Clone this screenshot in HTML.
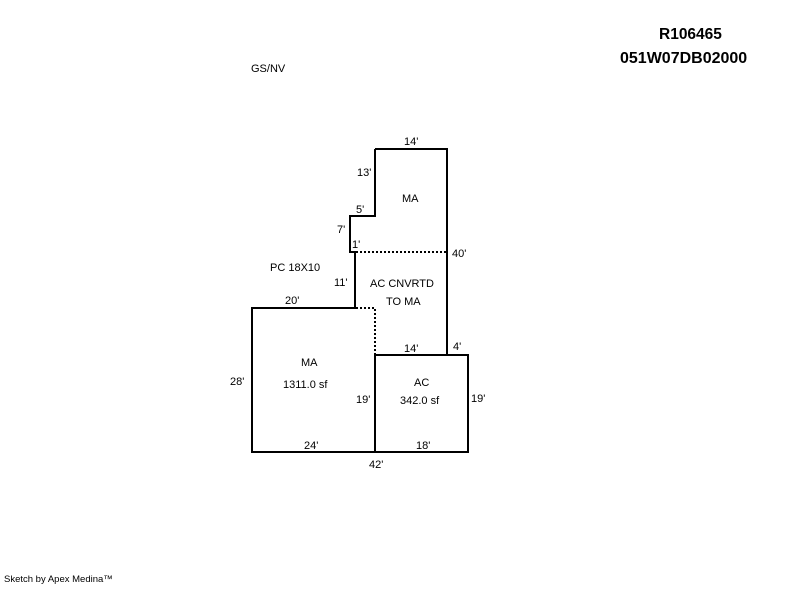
<!DOCTYPE html>
<html><head><style>
body{margin:0;background:#fff;width:800px;height:587px;overflow:hidden;}
svg text{font-family:"Liberation Sans",sans-serif;font-size:11px;fill:#000;}
</style></head><body>
<svg width="800" height="587" xmlns="http://www.w3.org/2000/svg">
<g fill="none" stroke="#000" stroke-width="2">
<polyline points="375,149 447,149 447,355 468,355 468,452 252,452 252,308 355,308 355,252 350,252 350,216 375,216 375,149"/>
<polyline points="375,452 375,355 447,355"/>
</g>
<g fill="none" stroke="#000" stroke-width="2" stroke-dasharray="2,2">
<line x1="356" y1="252" x2="446" y2="252"/>
<line x1="356" y1="308" x2="375" y2="308"/>
<line x1="375" y1="309" x2="375" y2="354"/>
</g>
<text x="659" y="39" style="font-size:15.5px;font-weight:bold">R106465</text>
<text x="620" y="63" style="font-size:16px;font-weight:bold">051W07DB02000</text>
<text x="251" y="72">GS/NV</text>
<text x="404" y="145">14'</text>
<text x="357" y="176">13'</text>
<text x="402" y="202">MA</text>
<text x="356" y="213">5'</text>
<text x="337" y="233">7'</text>
<text x="352" y="248">1'</text>
<text x="452" y="257">40'</text>
<text x="270" y="271">PC 18X10</text>
<text x="334" y="286">11'</text>
<text x="370" y="287">AC CNVRTD</text>
<text x="386" y="305">TO MA</text>
<text x="285" y="304">20'</text>
<text x="404" y="352">14'</text>
<text x="453" y="350">4'</text>
<text x="301" y="366">MA</text>
<text x="283" y="388">1311.0 sf</text>
<text x="230" y="385">28'</text>
<text x="414" y="386">AC</text>
<text x="400" y="404">342.0 sf</text>
<text x="356" y="403">19'</text>
<text x="471" y="402">19'</text>
<text x="304" y="449">24'</text>
<text x="416" y="449">18'</text>
<text x="369" y="468">42'</text>
<text x="4" y="582" style="font-size:9.5px">Sketch by Apex Medina™</text>
</svg>
</body></html>
